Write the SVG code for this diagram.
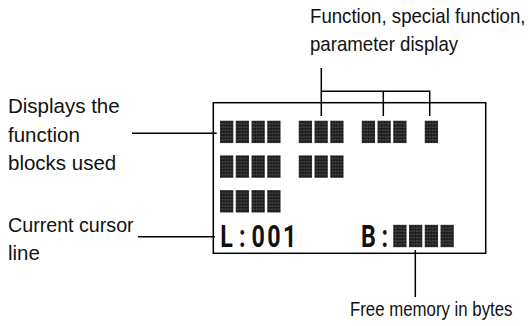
<svg xmlns="http://www.w3.org/2000/svg" width="530" height="326" viewBox="0 0 530 326">
<style>
.lbl{font-family:"Liberation Sans",Arial,sans-serif;font-size:20.5px;fill:#111}
.ln{stroke:#000;stroke-width:1.5;fill:none}
.lcd{font-family:Roboto,"DejaVu Sans",sans-serif;font-weight:bold;font-size:31px;fill:#111;text-anchor:middle}
</style>
<defs>
<pattern id="dots" patternUnits="objectBoundingBox" patternContentUnits="objectBoundingBox" width="0.2" height="0.142857">
<rect width="0.2" height="0.142857" fill="#888"/>
<rect x="0.012" y="0.008" width="0.176" height="0.127" fill="#111"/>
</pattern>
<rect id="b" width="13.3" height="22.4" fill="url(#dots)"/>
</defs>
<rect width="530" height="326" fill="#fff"/>
<g id="label-function">
<text class="lbl" transform="translate(310 23) scale(0.91 1)">Function, special function,</text>
<text class="lbl" transform="translate(310 51) scale(0.91 1)">parameter display</text>
</g>
<g id="label-blocks">
<text class="lbl" x="8" y="113">Displays the</text>
<text class="lbl" x="8" y="141.5">function</text>
<text class="lbl" x="8" y="170">blocks used</text>
</g>
<g id="label-cursor">
<text class="lbl" transform="translate(8 232) scale(0.96 1)">Current cursor</text>
<text class="lbl" x="8" y="260">line</text>
</g>
<g id="label-memory">
<text class="lbl" transform="translate(350 316) scale(0.82 1)">Free memory in bytes</text>
</g>
<g id="display">
<rect class="ln" x="213.3" y="102.7" width="272.4" height="150.6"/>
<use href="#b" x="220" y="120.7"/><use href="#b" x="235.75" y="120.7"/><use href="#b" x="251.5" y="120.7"/><use href="#b" x="267.25" y="120.7"/>
<use href="#b" x="298.75" y="120.7"/><use href="#b" x="314.5" y="120.7"/><use href="#b" x="330.25" y="120.7"/>
<use href="#b" x="361.75" y="120.7"/><use href="#b" x="377.5" y="120.7"/><use href="#b" x="393.25" y="120.7"/>
<use href="#b" x="424.75" y="120.7"/>
<use href="#b" x="220" y="155.4"/><use href="#b" x="235.75" y="155.4"/><use href="#b" x="251.5" y="155.4"/><use href="#b" x="267.25" y="155.4"/>
<use href="#b" x="298.75" y="155.4"/><use href="#b" x="314.5" y="155.4"/><use href="#b" x="330.25" y="155.4"/>
<use href="#b" x="220" y="190.1"/><use href="#b" x="235.75" y="190.1"/><use href="#b" x="251.5" y="190.1"/><use href="#b" x="267.25" y="190.1"/>
<text class="lcd" transform="scale(0.75 1)" x="302.2 323.2 344.2 365.2 386.2" y="246.8">L:001</text>
<text class="lcd" transform="scale(0.75 1)" x="491.2 513.2" y="246.8">B:</text>
<use href="#b" x="393.25" y="224.8"/><use href="#b" x="409" y="224.8"/><use href="#b" x="424.75" y="224.8"/><use href="#b" x="440.5" y="224.8"/>
</g>
<g id="connectors">
<path class="ln" d="M321.3 68V116M321.3 91.3H429.7V116M383.3 91.3V116"/>
<path class="ln" d="M132 133.3H216.7"/>
<path class="ln" d="M138 236.7H215"/>
<path class="ln" d="M415.3 250V297"/>
</g>
</svg>
